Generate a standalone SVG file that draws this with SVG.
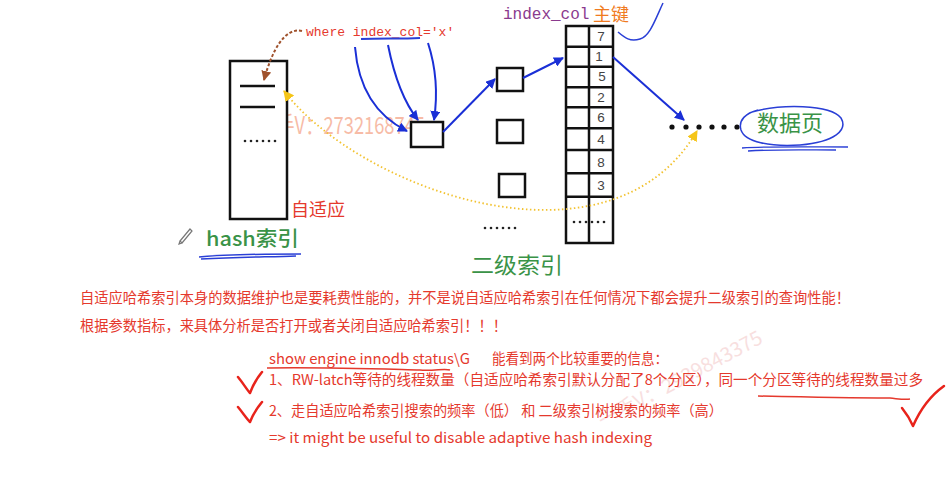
<svg xmlns="http://www.w3.org/2000/svg" width="948" height="482" viewBox="0 0 948 482">
<style>
.box{fill:#fff;stroke:#111;stroke-width:2.5}
.blk{stroke:#111;stroke-width:2.5}
.blue{fill:none;stroke:#1a2fd6;stroke-width:2}
.num{font-family:"Liberation Sans","Noto Sans",sans-serif;font-size:13.5px;fill:#444;text-anchor:middle}
.dot{fill:#222}
.red{font-family:"Noto Sans CJK SC","Noto Sans",sans-serif;font-size:14.5px;fill:#e5392d}
.grn{font-family:"Noto Sans CJK SC",sans-serif;fill:#3a9347}
.mono{font-family:"Liberation Mono","DejaVu Sans Mono",monospace}
.chk{fill:none;stroke:#e8231b;stroke-width:2.5;stroke-linecap:round;stroke-linejoin:round}
</style>
<defs>
<marker id="ab" viewBox="0 0 10 10" refX="9" refY="5" markerWidth="5" markerHeight="5" orient="auto"><path d="M0,0 L10,5 L0,10 z" fill="#1a2fd6"/></marker>
<marker id="ar" viewBox="0 0 10 10" refX="9" refY="5" markerWidth="5" markerHeight="5" orient="auto"><path d="M0,0 L10,5 L0,10 z" fill="#a0522d"/></marker>
<marker id="ay" viewBox="0 0 10 10" refX="9" refY="5" markerWidth="6" markerHeight="6" orient="auto-start-reverse"><path d="M0,0 L10,5 L0,10 z" fill="#f5c518"/></marker>
</defs>
<rect width="948" height="482" fill="#fff"/>

<!-- watermarks -->
<text x="258" y="134" font-family="Noto Sans CJK SC,sans-serif" font-size="24" fill="#f07a50" opacity="0.5" textLength="167" lengthAdjust="spacingAndGlyphs">一手V：2732168745</text>
<text x="603" y="428" font-family="Noto Sans CJK SC,sans-serif" font-size="20" fill="#e07070" opacity="0.22" transform="rotate(-28 603 428)">一手V：2939843375</text>

<g id="hash-index">
<rect class="box" x="230" y="61" width="57" height="158"/>
<line class="blk" x1="240" y1="86" x2="275" y2="86"/>
<line class="blk" x1="240" y1="107" x2="275" y2="107"/>
<g class="dot"><circle cx="245" cy="141" r="1.3"/><circle cx="251" cy="141" r="1.3"/><circle cx="257" cy="141" r="1.3"/><circle cx="263" cy="141" r="1.3"/><circle cx="269" cy="141" r="1.3"/><circle cx="275" cy="141" r="1.3"/></g>
</g>
<g id="label-adaptive"><text x="291" y="216" font-family="Noto Sans CJK SC,sans-serif" font-size="18" fill="#e5392d">自适应</text></g>
<g id="label-hash">
<path d="M180,241 L190,229 L192,231 L182,243 Z M180,241 L179,244 L182,243" fill="none" stroke="#777" stroke-width="1.2"/>
<text class="grn" x="206" y="246" font-size="20" font-weight="500" textLength="93" lengthAdjust="spacingAndGlyphs">hash索引</text>
<path d="M199,257 C230,254 270,254 301,254 M201,259 C240,257 270,257 296,256" fill="none" stroke="#2a3fd6" stroke-width="1.5"/>
</g>

<g id="where-label">
<text class="mono" x="306" y="36" font-size="13" fill="#e5392d">where index_col='x'</text>
<path d="M361,39 C380,38 400,39 420,38" fill="none" stroke="#2a3fd6" stroke-width="1.8"/>
</g>

<g id="sec-box1"><rect class="box" x="411" y="122" width="32" height="25"/></g>
<g id="sec-box2"><rect class="box" x="497" y="68" width="26" height="23"/></g>
<g id="sec-box3"><rect class="box" x="497" y="120" width="26" height="23"/></g>
<g id="sec-box4"><rect class="box" x="499" y="174" width="26" height="23"/></g>
<g id="sec-dots" class="dot"><circle cx="485" cy="228" r="1.3"/><circle cx="491" cy="228" r="1.3"/><circle cx="497" cy="228" r="1.3"/><circle cx="503" cy="228" r="1.3"/><circle cx="509" cy="228" r="1.3"/><circle cx="515" cy="228" r="1.3"/></g>
<g id="label-secondary"><text class="grn" x="471" y="273" font-size="22" textLength="92" lengthAdjust="spacingAndGlyphs">二级索引</text></g>

<g id="pk-column">
<rect class="box" x="566" y="26" width="47" height="217"/>
<line class="blk" x1="589" y1="26" x2="589" y2="243"/>
<line class="blk" x1="566" y1="46.7" x2="613" y2="46.7"/>
<line class="blk" x1="566" y1="66.7" x2="613" y2="66.7"/>
<line class="blk" x1="566" y1="87.3" x2="613" y2="87.3"/>
<line class="blk" x1="566" y1="107.3" x2="613" y2="107.3"/>
<line class="blk" x1="566" y1="128.3" x2="613" y2="128.3"/>
<line class="blk" x1="566" y1="150" x2="613" y2="150"/>
<line class="blk" x1="566" y1="173.3" x2="613" y2="173.3"/>
<line class="blk" x1="566" y1="196.7" x2="613" y2="196.7"/>
<text class="num" x="601" y="41">7</text>
<text class="num" x="599" y="61">1</text>
<text class="num" x="602" y="81">5</text>
<text class="num" x="601" y="102">2</text>
<text class="num" x="601" y="122">6</text>
<text class="num" x="601" y="144">4</text>
<text class="num" x="601" y="167">8</text>
<text class="num" x="601" y="190">3</text>
<g class="dot"><circle cx="574" cy="222" r="1.3"/><circle cx="580" cy="222" r="1.3"/><circle cx="586" cy="222" r="1.3"/><circle cx="592" cy="222" r="1.3"/><circle cx="598" cy="222" r="1.3"/><circle cx="604" cy="222" r="1.3"/></g>
</g>
<g id="label-pk">
<text class="mono" x="503" y="19" font-size="16" fill="#8a3a8e">index_col</text>
<text x="593" y="21" font-family="Noto Sans CJK SC,sans-serif" font-size="18" fill="#f07a20">主键</text>
<path d="M618,32 C625,38 630,42 640,39 C650,36 655,20 663,3" fill="none" stroke="#2a3fd6" stroke-width="1.5"/>
</g>

<g id="data-page">
<circle cx="672" cy="127" r="2.6" fill="#111"/>
<circle cx="686" cy="127" r="2.6" fill="#111"/>
<circle cx="699" cy="127" r="2.6" fill="#111"/>
<circle cx="712" cy="127" r="2.6" fill="#111"/>
<circle cx="724" cy="127" r="2.6" fill="#111"/>
<circle cx="737" cy="127" r="2.6" fill="#111"/>
<text class="grn" x="757" y="131" font-size="22" textLength="66" lengthAdjust="spacingAndGlyphs">数据页</text>
<path d="M752,112 C780,104 830,104 841,118 C848,130 835,142 800,145 C770,147 745,142 741,130 C738,120 746,113 758,110" fill="none" stroke="#2a3fd6" stroke-width="1.5"/>
<path d="M742,148 C775,146 815,147 848,147 M748,151 C780,149 810,150 836,150" fill="none" stroke="#2a3fd6" stroke-width="1.3"/>
</g>

<g id="connectors">
<path d="M302,31 C285,27 272,50 264,80" fill="none" stroke="#a0522d" stroke-width="2" stroke-dasharray="3 2" marker-end="url(#ar)"/>
<path class="blue" d="M355,47 Q360,108 407,131" marker-end="url(#ab)"/>
<path class="blue" d="M388,45 Q398,95 418,120" marker-end="url(#ab)"/>
<path class="blue" d="M428,43 Q440,80 434,120" marker-end="url(#ab)"/>
<path class="blue" d="M443,132 L495,79" marker-end="url(#ab)"/>
<path class="blue" d="M523,78 L563,58" marker-end="url(#ab)"/>
<path class="blue" d="M613,57 L684,120" marker-end="url(#ab)"/>
<path d="M284,91 C360,190 610,280 697,131" fill="none" stroke="#f2c230" stroke-width="1.8" stroke-dasharray="1.5 2.5" marker-start="url(#ay)" marker-end="url(#ay)"/>
</g>

<g id="notes">
<text class="red" x="80" y="303" textLength="770" lengthAdjust="spacingAndGlyphs">自适应哈希索引本身的数据维护也是要耗费性能的，并不是说自适应哈希索引在任何情况下都会提升二级索引的查询性能！</text>
<text class="red" x="80" y="331" textLength="427" lengthAdjust="spacingAndGlyphs">根据参数指标，来具体分析是否打开或者关闭自适应哈希索引！！！</text>
<text class="red" x="269" y="364" textLength="201" lengthAdjust="spacingAndGlyphs">show engine innodb status\G</text>
<text class="red" x="492" y="364" textLength="176" lengthAdjust="spacingAndGlyphs">能看到两个比较重要的信息：</text>
<path d="M267,368 C320,367 380,369 420,370 C435,371 445,368 450,370" fill="none" stroke="#e5392d" stroke-width="1.5"/>
<text class="red" x="269" y="385" textLength="654" lengthAdjust="spacingAndGlyphs">1、RW-latch等待的线程数量（自适应哈希索引默认分配了8个分区），同一个分区等待的线程数量过多</text>
<path d="M758,396 C800,397 850,398 890,398 C900,399 905,400 910,399" fill="none" stroke="#e5392d" stroke-width="1.5"/>
<text class="red" x="269" y="416" textLength="454" lengthAdjust="spacingAndGlyphs">2、走自适应哈希索引搜索的频率（低） 和 二级索引树搜索的频率（高）</text>
<text class="red" x="269" y="443" textLength="383" lengthAdjust="spacingAndGlyphs">=&gt; it might be useful to disable adaptive hash indexing</text>
<path class="chk" d="M238,377 C243,383 247,390 250,393 C253,385 257,378 262,372"/>
<path class="chk" d="M238,407 C243,413 247,419 250,422 C253,414 257,408 262,402"/>
<path class="chk" d="M902,408 C906,413 910,419 913,426 C920,410 930,396 944,386" stroke-width="4.5"/>
</g>
</svg>
